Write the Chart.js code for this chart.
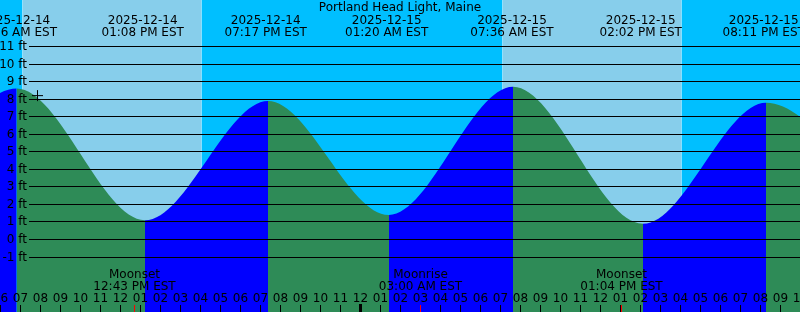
<!DOCTYPE html>
<html><head><meta charset="utf-8">
<script src="https://cdn.jsdelivr.net/npm/chart.js@4/dist/chart.umd.min.js"></script>
<style>html,body{margin:0;padding:0;background:#fff;overflow:hidden}canvas{display:block}</style>
</head><body>
<div style="width:800px;height:312px"><canvas id="c" width="800" height="312"></canvas></div>
<script>
// All times are hours since 2025-12-14 00:00 EST
const chartTitle = 'Portland Head Light, Maine';
const viewStart = 6, viewEnd = 46;
const feetMin = -4.13, feetMax = 13.65;

// tide extremes as drawn (first and last lie outside the visible window)
const tideHours = [0.5, 6.835, 13.25, 19.4, 25.45, 31.65, 38.15, 44.3, 50.7];
const tideFeet  = [0.9, 8.6,   1.1,   7.9,  1.4,   8.7,   0.9,   7.8,  1.2];

// labelled tide events along the top
const eventHours = [6.767, 13.133, 19.283, 25.333, 31.6, 38.033, 44.183];
const eventDates = ['2025-12-14','2025-12-14','2025-12-14','2025-12-15','2025-12-15','2025-12-15','2025-12-15'];
const eventTimes = ['06:46 AM EST','01:08 PM EST','07:17 PM EST','01:20 AM EST','07:36 AM EST','02:02 PM EST','08:11 PM EST'];

// sky: boundaries (sunrise/sunset) and day flag for each interval
const skyHours = [6, 7.133, 16.067, 31.133, 40.067, 46];
const skyIsDay = [false, true, false, true, false];

// moon events
const moonHours = [12.717, 27.0, 37.067];
const moonNames = ['Moonset', 'Moonrise', 'Moonset'];
const moonTimes = ['12:43 PM EST', '03:00 AM EST', '01:04 PM EST'];

// axis ticks
const feetTicks = [-1, 0, 1, 2, 3, 4, 5, 6, 7, 8, 9, 10, 11];
const hourTicks = [6,7,8,9,10,11,12,13,14,15,16,17,18,19,20,21,22,23,24,25,26,27,28,29,30,31,32,33,34,35,36,37,38,39,40,41,42,43,44,45,46];

// current time marker
const nowHour = 7.875, nowFeet = 8.2;

const C = {
  rise: '#0000FF', fall: '#2E8B57', day: '#87CEEB', night: '#00BFFF',
  text: '#000000', moon: '#FF0000'
};
const FONT = '12px "DejaVu Sans"';

function hourLabel(h) {
  const v = (h % 12) || 12;
  return String(v).padStart(2, '0');
}

const overlay = {
  id: 'overlay',
  afterDatasetsDraw(chart) {
    const {ctx, scales: {x, y}, chartArea: a} = chart;
    ctx.save();
    ctx.fillStyle = C.text;
    ctx.font = FONT;
    // horizontal grid + labels
    feetTicks.forEach(v => {
      const py = Math.floor(y.getPixelForValue(v));
      ctx.fillStyle = C.text;
      ctx.fillRect(29, py, a.right - 29, 1);
      ctx.textAlign = 'right';
      ctx.textBaseline = 'alphabetic';
      ctx.fillText(v + ' ft', 27, py + 4);
    });
    // hour ticks and labels
    ctx.textAlign = 'center';
    hourTicks.forEach(h => {
      const px = Math.round(x.getPixelForValue(h));
      ctx.fillStyle = C.text;
      if (h % 24 === 0) ctx.fillRect(px - 1, 304, 3, 8);
      else ctx.fillRect(px, 305, 1, 7);
      ctx.fillText(hourLabel(h), px + 0.5, 302);
    });
    // moon events
    moonHours.forEach((h, i) => {
      const px = Math.round(x.getPixelForValue(h));
      ctx.fillStyle = C.moon;
      ctx.fillRect(px, 305, 1, 7);
      ctx.fillStyle = C.text;
      ctx.fillText(moonNames[i], px + 0.5, 278);
      ctx.fillText(moonTimes[i], px + 0.5, 290);
    });
    // tide event labels
    eventHours.forEach((h, i) => {
      const px = x.getPixelForValue(h);
      ctx.fillText(eventDates[i], px, 24);
      ctx.fillText(eventTimes[i], px, 36);
    });
    // title
    ctx.fillText(chartTitle, (a.left + a.right) / 2, 11);
    ctx.restore();
  }
};

new Chart(document.getElementById('c'), {
  type: 'line',
  data: {
    datasets: [
      {
        label: 'sky',
        order: 3,
        data: skyHours.map(h => ({x: h, y: feetMax})),
        borderColor: 'rgba(0,0,0,0)',
        borderWidth: 0,
        pointRadius: 0,
        fill: 'start',
        backgroundColor: C.night,
        segment: { backgroundColor: c => skyIsDay[c.p0DataIndex] ? C.day : C.night }
      },
      {
        label: 'tide',
        order: 2,
        data: tideHours.map((h, i) => ({x: h, y: tideFeet[i]})),
        borderColor: 'rgba(0,0,0,0)',
        borderWidth: 0,
        pointRadius: 0,
        fill: 'start',
        cubicInterpolationMode: 'monotone',
        capBezierPoints: false,
        backgroundColor: C.fall,
        segment: { backgroundColor: c => c.p1.parsed.y > c.p0.parsed.y ? C.rise : C.fall }
      },
      {
        type: 'scatter',
        label: 'now',
        order: 1,
        data: [{x: nowHour, y: nowFeet}],
        pointStyle: 'cross',
        pointRadius: 5.5,
        borderColor: '#000',
        backgroundColor: '#000',
        borderWidth: 1,
        showLine: false
      }
    ]
  },
  options: {
    responsive: false,
    animation: false,
    events: [],
    layout: { padding: 0, autoPadding: false },
    plugins: { legend: { display: false }, tooltip: { enabled: false }, title: { display: false } },
    scales: {
      x: { type: 'linear', min: viewStart, max: viewEnd, display: false },
      y: { type: 'linear', min: feetMin, max: feetMax, display: false }
    }
  },
  plugins: [overlay]
});
</script>
</body></html>
